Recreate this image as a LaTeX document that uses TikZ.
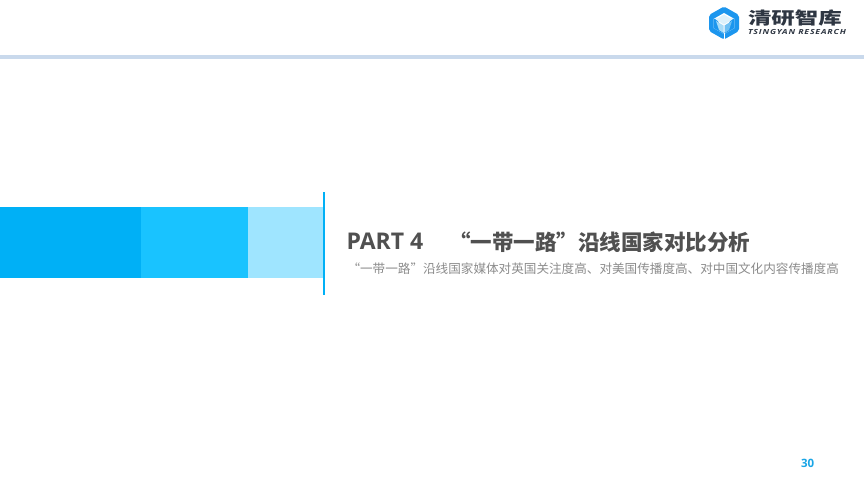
\documentclass[tikz,border=0pt]{standalone}
\usepackage{fontspec}
\setmainfont{Open Sans}
\newfontfamily\cjk{Noto Sans CJK SC}
\newfontfamily\latin{Open Sans}
\newfontfamily\logocjk[FakeStretch=1.38]{Noto Sans CJK SC}
\newfontfamily\logolatin[FakeStretch=1.25,LetterSpace=12]{Open Sans}
\definecolor{bandA}{HTML}{00B0F6}
\definecolor{bandB}{HTML}{19C3FF}
\definecolor{bandC}{HTML}{9FE5FF}
\definecolor{rulebar}{HTML}{C9D9EC}
\definecolor{titlegrey}{HTML}{505050}
\definecolor{subgrey}{HTML}{8C8C8C}
\definecolor{logodark}{HTML}{2E3642}
\definecolor{logoblue}{HTML}{1C96EE}
\definecolor{logotop}{HTML}{DDF1FB}
\definecolor{logolight}{HTML}{A9DCF8}
\definecolor{logomid}{HTML}{6FC0F3}
\definecolor{pagenum}{HTML}{19A5E6}
\tikzset{
  band/.style={fill=#1,draw=none},
  txt/.style={inner sep=0pt,outer sep=0pt,anchor=base west},
}
\begin{document}
\begin{tikzpicture}[x=1pt,y=-1pt]
\useasboundingbox (0,0) rectangle (864,486);
\fill[white] (0,0) rectangle (864,486);
% header rule
\fill[rulebar] (0,55) rectangle (864,59);
% bands
\fill[band=bandA] (0,207) rectangle (141,278);
\fill[band=bandB] (141,207) rectangle (248,278);
\fill[band=bandC] (248,207) rectangle (324,278);
\fill[band=bandA] (323.2,192) rectangle (325.4,295);
% titles
\node[txt,text=titlegrey,font=\latin\bfseries\fontsize{23}{26}\selectfont] (part) at (346.5,250) {PART 4};
\node[txt,text=titlegrey,font=\cjk\bfseries\fontsize{21.5}{26}\selectfont] (title) at (449,251) {“一带一路”沿线国家对比分析};
\node[txt,text=subgrey,font=\cjk\fontsize{12.6}{15}\selectfont] (sub) at (347.5,273) {“一带一路”沿线国家媒体对英国关注度高、对美国传播度高、对中国文化内容传播度高};
% page number
\node[txt,text=pagenum,font=\latin\bfseries\fontsize{11.5}{14}\selectfont] (page) at (801,467) {30};
% logo mark
\fill[logoblue,rounded corners=2pt] (724,6.5) -- (739,15) -- (739,31) -- (724,39.5) -- (709,31) -- (709,15) -- cycle;
\fill[white] (724,13) -- (734.5,19) -- (734.5,28) -- (724,34) -- (713.5,28) -- (713.5,19) -- cycle;
\fill[logoblue] (713.5,19) -- (717,19) -- (724,34) -- (713.5,28) -- cycle;
\fill[logoblue] (734.5,19) -- (731,19) -- (724,34) -- (734.5,28) -- cycle;
\fill[logotop] (724,14.5) -- (732.5,19.5) -- (724,24.5) -- (715.5,19.5) -- cycle;
\fill[logolight] (716,21) -- (723.5,25.5) -- (723.5,33) -- (719,30) -- cycle;
\fill[logomid] (732,21) -- (724.5,25.5) -- (724.5,33) -- (729,30) -- cycle;
\draw[white,line width=0.8pt] (724,33) -- (724,40);
% logo text
\node[txt,text=logodark,font=\logocjk\bfseries\fontsize{17}{20}\selectfont] (logoname) at (748,24.5) {清研智库};
\node[txt,text=logodark,font=\logolatin\bfseries\itshape\fontsize{7}{9}\selectfont] (logosub) at (748,34.5) {TSINGYAN RESEARCH};
\end{tikzpicture}
\end{document}
